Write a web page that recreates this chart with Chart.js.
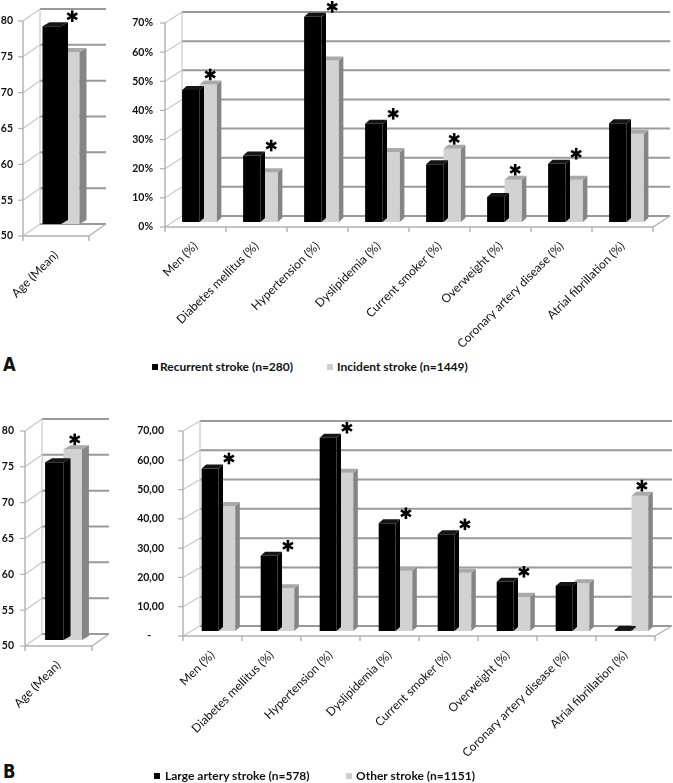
<!DOCTYPE html>
<html>
<head>
<meta charset="utf-8">
<script src="https://cdn.jsdelivr.net/npm/chart.js@4.4.1/dist/chart.umd.min.js"></script>
<style>
  html, body { margin: 0; padding: 0; background: #fff; }
  body { width: 673px; height: 783px; position: relative; overflow: hidden;
         font-family: Lato, 'Open Sans', sans-serif; color: #111; }
  canvas { position: absolute; }
  .panel { position: absolute; font-family: 'DejaVu Sans', sans-serif; font-weight: bold; font-size: 20px; line-height: 20px;
           transform: scaleX(0.82); transform-origin: left top; }
  .leg { position: absolute; font-weight: bold; font-size: 12px; line-height: 12px; white-space: nowrap; }
  .sq { position: absolute; width: 6px; height: 6px; }
</style>
</head>
<body>
<canvas id="ageA" width="112" height="330" style="left:0;top:0"></canvas>
<canvas id="mainA" width="561" height="352" style="left:112px;top:0"></canvas>
<div class="panel" style="left:3px;top:354px">A</div>
<div class="sq" style="left:152px;top:364px;background:#000"></div>
<div class="leg" style="left:160px;top:361px">Recurrent stroke (n=280)</div>
<div class="sq" style="left:327px;top:364px;background:#cfcfcf"></div>
<div class="leg" style="left:337px;top:361px">Incident stroke (n=1449)</div>

<canvas id="ageB" width="112" height="340" style="left:0;top:400px"></canvas>
<canvas id="mainB" width="561" height="383" style="left:112px;top:400px"></canvas>
<div class="panel" style="left:3px;top:761px">B</div>
<div class="sq" style="left:154px;top:773px;background:#000"></div>
<div class="leg" style="left:165px;top:770px">Large artery stroke (n=578)</div>
<div class="sq" style="left:346px;top:773px;background:#cfcfcf"></div>
<div class="leg" style="left:356px;top:770px">Other stroke (n=1151)</div>

<script>
// categories
const ageLabels = ['Age (Mean)'];
const categories = ['Men (%)', 'Diabetes mellitus (%)', 'Hypertension (%)', 'Dyslipidemia (%)',
  'Current smoker (%)', 'Overweight (%)', 'Coronary artery disease (%)', 'Atrial fibrillation (%)'];

// panel A
const recurrentAge = [77.6];
const incidentAge = [74.0];
const recurrent = [45.3, 22.8, 70.4, 33.7, 19.8, 8.6, 20.0, 33.9];
const incident = [47.2, 17.1, 55.4, 24.0, 25.1, 14.5, 14.5, 30.3];
const starsAgeA = [true];
const starsA = [true, true, true, true, true, true, true, false];

// panel B
const largeArteryAge = [74.8];
const otherAge = [76.6];
const largeArtery = [55.5, 25.7, 66.0, 36.8, 33.0, 16.8, 15.4, 0.3];
const other = [42.7, 14.6, 54.0, 20.6, 19.9, 11.7, 16.3, 46.2];
const starsAgeB = [true];
const starsB = [true, true, true, true, true, true, false, true];

const FONT = "Lato, 'Open Sans', sans-serif";

function seg(ctx, x1, y1, x2, y2) {
  ctx.beginPath(); ctx.moveTo(x1, y1); ctx.lineTo(x2, y2); ctx.stroke();
}
function poly(ctx, pts) {
  ctx.beginPath();
  ctx.moveTo(pts[0][0], pts[0][1]);
  for (let i = 1; i < pts.length; i++) ctx.lineTo(pts[i][0], pts[i][1]);
  ctx.closePath(); ctx.fill();
}
function star(ctx, cx, cy) {
  const r = 5.8;
  ctx.save();
  ctx.strokeStyle = '#000'; ctx.lineWidth = 2.6;
  [90, 30, 150].forEach(d => {
    const a = d * Math.PI / 180;
    seg(ctx, cx - r * Math.cos(a), cy - r * Math.sin(a), cx + r * Math.cos(a), cy + r * Math.sin(a));
  });
  ctx.restore();
}

// excel-like 3d look: walls, floor, bar sides and tops
const fake3d = {
  id: 'fake3d',
  beforeDatasetsDraw(chart, args, o) {
    const ctx = chart.ctx, a = chart.chartArea, y = chart.scales.y;
    const n = chart.data.labels.length;
    ctx.save();
    y.ticks.forEach(t => {
      const py = y.getPixelForValue(t.value);
      ctx.strokeStyle = '#c8c8c8'; ctx.lineWidth = 1.2;
      seg(ctx, a.left, py, a.left + o.dx, py + o.dy);
      ctx.strokeStyle = '#999999'; ctx.lineWidth = 2;
      seg(ctx, a.left + o.dx, py + o.dy, a.right + o.dx, py + o.dy);
      ctx.strokeStyle = '#b0b0b0'; ctx.lineWidth = 1.2;
      seg(ctx, a.left - 5, py, a.left, py);
    });
    ctx.strokeStyle = '#c8c8c8'; ctx.lineWidth = 1.2;
    seg(ctx, a.left + o.dx, a.top + o.dy, a.left + o.dx, a.bottom + o.dy);
    ctx.strokeStyle = '#b0b0b0'; ctx.lineWidth = 1.4;
    seg(ctx, a.left, a.top, a.left, a.bottom);
    seg(ctx, a.left, a.bottom, a.right, a.bottom);
    seg(ctx, a.right, a.bottom, a.right + o.dx, a.bottom + o.dy);
    for (let i = 0; i <= n; i++) {
      const bx = a.left + i * a.width / n;
      seg(ctx, bx, a.bottom, bx, a.bottom + 5);
    }
    ctx.restore();
    ctx.save();
    ctx.translate(o.sx, o.sy);
  },
  afterDatasetDraw(chart, args, o) {
    const ctx = chart.ctx;
    const ds = chart.data.datasets[args.index];
    args.meta.data.forEach(bar => {
      const p = bar.getProps(['x', 'y', 'base', 'width'], true);
      const l = p.x - p.width / 2, r = p.x + p.width / 2;
      ctx.fillStyle = ds.sideColor;
      poly(ctx, [[r, p.y], [r + o.bx, p.y + o.by], [r + o.bx, p.base + o.by], [r, p.base]]);
      ctx.fillStyle = ds.topColor;
      poly(ctx, [[l, p.y], [l + o.bx, p.y + o.by], [r + o.bx, p.y + o.by], [r, p.y]]);
    });
  },
  afterDatasetsDraw(chart, args, o) {
    const ctx = chart.ctx;
    const m0 = chart.getDatasetMeta(0).data, m1 = chart.getDatasetMeta(1).data;
    o.stars.forEach((s, i) => {
      if (!s) return;
      const top = Math.min(m0[i].y, m1[i].y);
      star(ctx, m1[i].x + 2, top - 10);
    });
    ctx.restore();
  }
};

function makeChart(id, labels, d0, d1, c) {
  return new Chart(document.getElementById(id), {
    type: 'bar',
    data: {
      labels: labels,
      datasets: [
        { data: d0, backgroundColor: '#000', sideColor: '#000', topColor: '#151515' },
        { data: d1, backgroundColor: '#d2d2d2', sideColor: '#858585', topColor: '#a9a9a9' }
      ]
    },
    options: {
      responsive: false,
      animation: false,
      layout: { padding: { top: c.top, right: c.right, left: 0, bottom: 0 } },
      datasets: { bar: { categoryPercentage: c.cat, barPercentage: 1, clip: false, base: c.min } },
      plugins: {
        legend: { display: false },
        tooltip: { enabled: false },
        fake3d: { dx: c.dx, dy: c.dy, sx: c.sx, sy: c.sy, bx: c.bx, by: c.by, stars: c.stars }
      },
      scales: {
        x: {
          grid: { display: false, drawTicks: false },
          border: { display: false },
          ticks: { autoSkip: false, minRotation: 45, maxRotation: 45, padding: 12,
                   color: '#111', font: { family: FONT, size: 12 } },
          afterFit(s) { s.height = c.xh; s.paddingLeft = 0; s.paddingRight = 0; }
        },
        y: {
          min: c.min, max: c.max,
          grid: { display: false, drawTicks: false },
          border: { display: false },
          ticks: { stepSize: c.step, padding: c.tpad, color: '#111', callback: c.fmt,
                   font: { family: FONT, size: 10.5, weight: 'bold' } },
          afterFit(s) { s.width = c.yw; s.paddingTop = 0; s.paddingBottom = 0; }
        }
      }
    },
    plugins: [fake3d]
  });
}

const plain = v => String(v);
makeChart('ageA', ageLabels, recurrentAge, incidentAge, {
  top: 21, right: 23, yw: 23, xh: 94, min: 50, max: 80, step: 5, tpad: 10, fmt: plain, cat: 0.56,
  dx: 17, dy: -12, sx: 5, sy: -12, bx: 7, by: -4, stars: starsAgeA
});
makeChart('mainA', categories, recurrent, incident, {
  top: 23, right: 20, yw: 53, xh: 125, min: 0, max: 70, step: 10, tpad: 12, fmt: v => v + '%', cat: 0.57,
  dx: 17, dy: -11, sx: 4, sy: -5, bx: 4.5, by: -4, stars: starsA
});
makeChart('ageB', ageLabels, largeArteryAge, otherAge, {
  top: 31, right: 20, yw: 25, xh: 94, min: 50, max: 80, step: 5, tpad: 11, fmt: plain, cat: 0.55,
  dx: 17, dy: -12, sx: 5, sy: -6, bx: 7, by: -4, stars: starsAgeB
});
makeChart('mainB', categories, largeArtery, other, {
  top: 31, right: 18, yw: 71, xh: 147, min: 0, max: 70, step: 10, tpad: 19,
  fmt: v => v === 0 ? '-     ' : v.toFixed(2).replace('.', ','), cat: 0.57,
  dx: 17, dy: -10, sx: 6, sy: -5, bx: 4.5, by: -4, stars: starsB
});
</script>
</body>
</html>
